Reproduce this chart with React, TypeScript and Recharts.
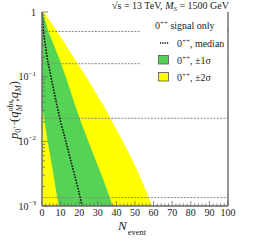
import React from 'react';
import { ComposedChart, Area, Line, XAxis, YAxis, ReferenceLine } from 'recharts';

// p-value levels (rows), N_event bounds of bands at each level
const pLevels = [1, 0.5, 0.2, 0.1, 0.05, 0.035, 0.02, 0.01, 0.005, 0.002, 0.001];
const medianN = [0, 0.8, 2.7, 4.8, 7.0, 8.1, 10.0, 12.8, 15.5, 19.1, 21.6];
const greenLo = [0, 0, 0, 0, 0, 0, 1.4, 3.1, 4.9, 7.2, 9.0];
const greenHi = [0.3, 3.4, 9.0, 12.8, 16.2, 18.0, 20.9, 24.9, 29.0, 34.4, 38.0];
const yellowLo = [0, 0, 0, 0, 0, 0, 0, 0, 0, 0, 0];
const yellowHi = [1.0, 8.2, 17.0, 23.8, 30.0, 33.4, 37.8, 43.5, 48.8, 55.0, 59.2];

const sigmaP = [0.5, 0.1587, 0.02275, 0.00135];
const sigmaLabels = ['0σ', '1σ', '2σ', '3σ'];

const xMinorStep = 2;
const yMajor = [0.001, 0.01, 0.1, 1];
const yMajorExp = ['-3', '-2', '-1', ''];
const yMinorMult = [2, 3, 4, 5, 6, 7, 8, 9];

const data = pLevels.map((p, i) => ({
  p,
  yellow: [yellowLo[i], yellowHi[i]],
  green: [greenLo[i], greenHi[i]],
  median: medianN[i],
}));

const xAll: number[] = [];
for (let v = 0; v <= 100; v += xMinorStep) xAll.push(v);
const yAll: number[] = [];
yMajor.forEach((m) => {
  yAll.push(m);
  if (m < 1) yMinorMult.forEach((k) => yAll.push(+(m * k).toPrecision(3)));
});

const FONT = 'Liberation Serif';
const AX = '#666';
const TXT = '#222';

const isMajorY = (v: number) => yMajor.some((m) => Math.abs(m - v) < 1e-9);

const XBottomTick = (props: any) => {
  const { x, y, payload } = props;
  const v = payload.value;
  const major = v % 10 === 0;
  return (
    <g>
      <line x1={x} x2={x} y1={y} y2={y - (major ? 5 : 2.5)} stroke={AX} strokeWidth={0.8} />
      {major && (
        <text x={x} y={y + 10} textAnchor="middle" fontSize={10} fill={TXT} fontFamily={FONT}>
          {v}
        </text>
      )}
    </g>
  );
};

const XTopTick = (props: any) => {
  const { x, y, payload } = props;
  const major = payload.value % 10 === 0;
  return <line x1={x} x2={x} y1={y} y2={y + (major ? 5 : 2.5)} stroke={AX} strokeWidth={0.8} />;
};

const YLeftTick = (props: any) => {
  const { x, y, payload } = props;
  const v = payload.value;
  const major = isMajorY(v);
  const idx = yMajor.findIndex((m) => Math.abs(m - v) < 1e-9);
  return (
    <g>
      <line x1={x} x2={x + (major ? 6 : 3)} y1={y} y2={y} stroke={AX} strokeWidth={0.8} />
      {major && (
        <text x={x - 6} y={y + 3.5} textAnchor="end" fontSize={10} fill={TXT} fontFamily={FONT}>
          {yMajorExp[idx] === '' ? (
            '1'
          ) : (
            <>
              <tspan>10</tspan>
              <tspan fontSize={7} dy={-4.5}>{'−' + yMajorExp[idx].slice(1)}</tspan>
            </>
          )}
        </text>
      )}
    </g>
  );
};

const YRightTick = (props: any) => {
  const { x, y, payload } = props;
  const v = payload.value;
  const sIdx = sigmaP.findIndex((s) => Math.abs(s - v) < 1e-9);
  const major = isMajorY(v);
  const len = sIdx >= 0 ? 6 : major ? 6 : 3;
  return (
    <g>
      <line x1={x} x2={x - len} y1={y} y2={y} stroke={AX} strokeWidth={0.8} />
      {sIdx >= 0 && (
        <text x={x + 3} y={y + 3.5} textAnchor="start" fontSize={10} fill={TXT} fontFamily={FONT}>
          {sigmaLabels[sIdx]}
        </text>
      )}
    </g>
  );
};

export default function App() {
  const W = 256;
  const H = 244;
  return (
    <div style={{ position: 'absolute', left: 0, top: 0, width: W, height: H, background: '#fff' }}>
      <ComposedChart
        width={W}
        height={H}
        data={data}
        layout="vertical"
        margin={{ top: 12, right: 0, bottom: 0, left: 0 }}
      >
        <XAxis
          xAxisId={0}
          type="number"
          dataKey="median"
          domain={[0, 100]}
          ticks={xAll}
          interval={0}
          allowDataOverflow
          height={38}
          tickSize={0}
          tickMargin={0}
          tickLine={false}
          tick={<XBottomTick />}
          axisLine={{ stroke: AX, strokeWidth: 1.4 }}
        />
        <XAxis
          xAxisId="top"
          orientation="top"
          type="number"
          domain={[0, 100]}
          ticks={xAll}
          interval={0}
          allowDataOverflow
          height={0}
          tickSize={0}
          tickMargin={0}
          tickLine={false}
          tick={<XTopTick />}
          axisLine={{ stroke: AX, strokeWidth: 1.4 }}
        />
        <YAxis
          yAxisId={0}
          type="number"
          dataKey="p"
          scale="log"
          domain={[0.001, 1]}
          reversed
          allowDataOverflow
          ticks={yAll}
          interval={0}
          width={42}
          tickSize={0}
          tickMargin={0}
          tickLine={false}
          tick={<YLeftTick />}
          axisLine={{ stroke: AX, strokeWidth: 1.4 }}
        />
        <YAxis
          yAxisId="r"
          orientation="right"
          type="number"
          scale="log"
          domain={[0.001, 1]}
          reversed
          allowDataOverflow
          ticks={[...yAll, ...sigmaP]}
          interval={0}
          width={28}
          tickSize={0}
          tickMargin={0}
          tickLine={false}
          tick={<YRightTick />}
          axisLine={{ stroke: AX, strokeWidth: 1.4 }}
        />
        <Area
          dataKey="yellow"
          type="linear"
          fill="#ffff00"
          fillOpacity={1}
          stroke="none"
          isAnimationActive={false}
        />
        <Area
          dataKey="green"
          type="linear"
          fill="#55d355"
          fillOpacity={1}
          stroke="none"
          isAnimationActive={false}
        />
        {sigmaP.map((s) => (
          <ReferenceLine key={s} y={s} stroke="#8a8a8a" strokeWidth={1} strokeDasharray="2 1.3" />
        ))}
        <Line
          dataKey="median"
          type="linear"
          stroke="#111"
          strokeWidth={1.6}
          strokeDasharray="1.6 1.3"
          dot={false}
          isAnimationActive={false}
        />
      </ComposedChart>
      <svg
        width={W}
        height={H}
        style={{ position: 'absolute', left: 0, top: 0, pointerEvents: 'none' }}
        fontFamily={FONT}
      >
        {/* title */}
        <text x={229} y={8.5} textAnchor="end" fontSize={10} fill={TXT}>
          <tspan>√s = 13 TeV, </tspan>
          <tspan fontStyle="italic">M</tspan>
          <tspan fontSize={7} fontStyle="italic" dy={2}>S</tspan>
          <tspan dy={-2}> = 1500 GeV</tspan>
        </text>
        {/* legend */}
        <rect x={141} y={14} width={85.5} height={72} fill="#fff" />
        <text x={155} y={28.5} fontSize={10} fill={TXT}>
          <tspan>0</tspan>
          <tspan fontSize={7} dy={-4}>++</tspan>
          <tspan dy={4}> signal only</tspan>
        </text>
        <line x1={160} x2={169} y1={43} y2={43} stroke="#111" strokeWidth={1.5} strokeDasharray="1.3 1" />
        <text x={177} y={46.5} fontSize={10} fill={TXT}>
          <tspan>0</tspan>
          <tspan fontSize={7} dy={-4}>++</tspan>
          <tspan dy={4}>, median</tspan>
        </text>
        <rect x={158.5} y={55.5} width={10} height={8.5} fill="#55d355" stroke="#555" strokeWidth={0.8} />
        <text x={177} y={63.5} fontSize={10} fill={TXT}>
          <tspan>0</tspan>
          <tspan fontSize={7} dy={-4}>++</tspan>
          <tspan dy={4}>, ±1σ</tspan>
        </text>
        <rect x={158.5} y={72.5} width={10} height={8.5} fill="#ffff00" stroke="#555" strokeWidth={0.8} />
        <text x={177} y={80.5} fontSize={10} fill={TXT}>
          <tspan>0</tspan>
          <tspan fontSize={7} dy={-4}>++</tspan>
          <tspan dy={4}>, ±2σ</tspan>
        </text>
        {/* x title */}
        <text x={118} y={230} fontSize={13} fill={TXT}>
          <tspan fontStyle="italic">N</tspan>
          <tspan fontSize={8.5} dy={5} dx={1}>event</tspan>
        </text>
        {/* y title */}
        <text
          x={0}
          y={0}
          transform="translate(18,110) rotate(-90)"
          textAnchor="middle"
          fontSize={12.5}
          fill={TXT}
        >
          <tspan fontStyle="italic">p</tspan>
          <tspan fontSize={8} dy={3}>0</tspan>
          <tspan fontSize={6} dy={-4}>++</tspan>
          <tspan dy={1}>(</tspan>
          <tspan fontStyle="italic">q</tspan>
          <tspan fontSize={8} dy={-5}>obs</tspan>
          <tspan fontSize={8} fontStyle="italic" dx={-11} dy={8.5}>M</tspan>
          <tspan dx={3} dy={-3.5}>;</tspan>
          <tspan fontStyle="italic">q</tspan>
          <tspan fontSize={8} fontStyle="italic" dy={3}>M</tspan>
          <tspan dy={-3}>)</tspan>
        </text>
      </svg>
    </div>
  );
}
